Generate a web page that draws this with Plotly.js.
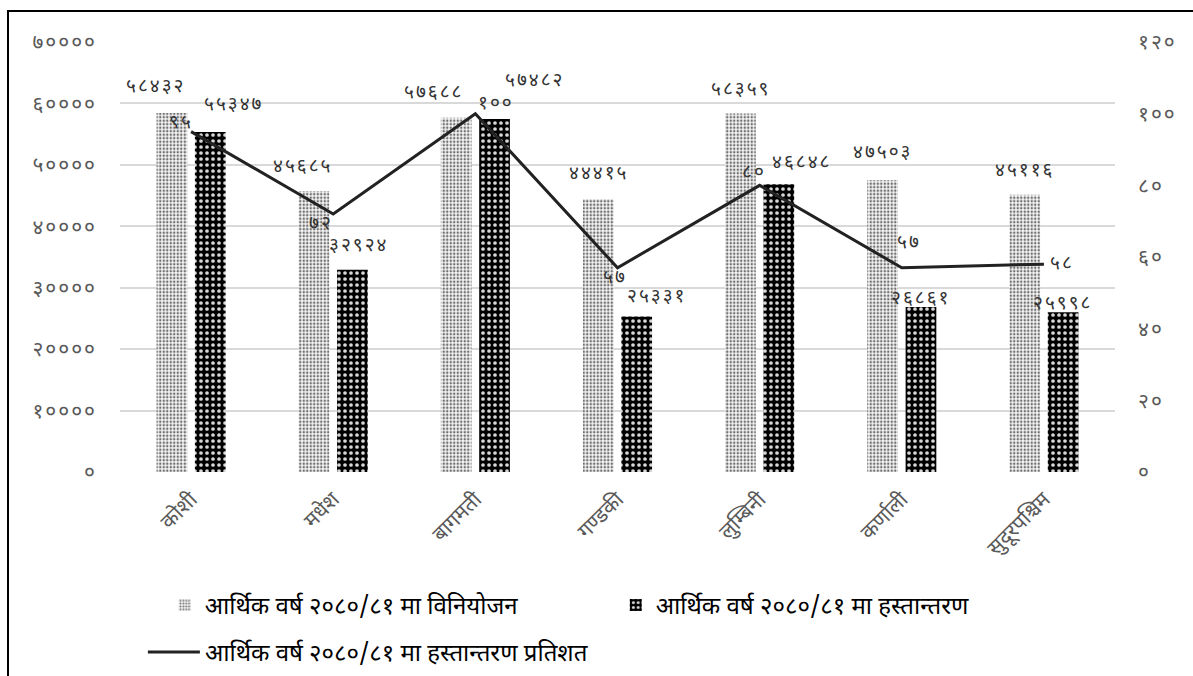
<!DOCTYPE html>
<html>
<head>
<meta charset="utf-8">
<script src="https://cdn.plot.ly/plotly-3.0.1.min.js"></script>
<style>
  body { margin: 0; background: #fff; overflow: hidden; }
  #chart { width: 1193px; height: 676px; }
  #frame { position: absolute; left: 7px; top: 10px; width: 1400px; height: 900px;
           border: 2px solid #000; pointer-events: none; }
  .ytick text, .y2tick text, .annotation-text { letter-spacing: 2px; }
</style>
</head>
<body>
<div id="chart"></div>
<div id="frame"></div>
<script>
// ---- data ----
const provinces = ['कोशी', 'मधेश', 'बागमती', 'गण्डकी', 'लुम्बिनी', 'कर्णाली', 'सुदूरपश्चिम'];
const allocation = [58432, 45685, 57688, 44415, 58359, 47503, 45116];
const transfer = [55347, 32924, 57482, 25331, 46848, 26861, 25998];
const transferPct = [95, 72, 100, 57, 80, 57, 58];
const leftTicks = [0, 10000, 20000, 30000, 40000, 50000, 60000, 70000];
const rightTicks = [0, 20, 40, 60, 80, 100, 120];
const seriesNames = [
  'आर्थिक वर्ष २०८०/८१ मा विनियोजन',
  'आर्थिक वर्ष २०८०/८१ मा हस्तान्तरण',
  'आर्थिक वर्ष २०८०/८१ मा हस्तान्तरण प्रतिशत'
];

const nep = n => String(n).replace(/[0-9]/g, d => '०१२३४५६७८९'[+d]);
const FONT = 'Noto Sans Devanagari, Lohit Devanagari, Kalimati, Mangal, FreeSans, Noto Sans, sans-serif';
const NUMSIZE = 21;
const LABSIZE = 19;

// label placement nudges (pixels, [dx, dy-up]) relative to each mark, styling only
const allocNudge = [[-36, 26], [-31, 24], [-42, 24], [-19, 25], [-19, 23], [-19, 27], [-19, 23]];
const transNudge = [[42, 27], [25, 23], [59, 37], [39, 19], [42, 21], [19, 8], [19, 8]];
const pctNudge = [[-10, 8], [-12, -10], [21, 9], [-3, -11], [-6, 12], [7, 24], [18, 0]];

const traces = [
  {
    type: 'bar', name: seriesNames[0], x: provinces, y: allocation,
    marker: { color: '#f2f2f2',
      pattern: { shape: '.', fgcolor: '#707070', bgcolor: '#f6f6f6', size: 3.5, solidity: 0.4 } },
    hoverinfo: 'x+y', legend: 'legend'
  },
  {
    type: 'bar', name: seriesNames[1], x: provinces, y: transfer,
    marker: { color: '#000',
      pattern: { shape: '.', fgcolor: '#d8d8d8', bgcolor: '#000', size: 6, solidity: 0.3 } },
    hoverinfo: 'x+y', legend: 'legend'
  },
  {
    type: 'scatter', mode: 'lines', name: seriesNames[2], x: provinces, y: transferPct,
    yaxis: 'y2', line: { color: '#222', width: 3 },
    cliponaxis: false, legend: 'legend2'
  }
];

const annotations = [];
const labFont = { family: FONT, size: LABSIZE, color: '#333' };
provinces.forEach((p, i) => {
  annotations.push({ x: p, y: allocation[i], xref: 'x', yref: 'y', text: nep(allocation[i]),
    showarrow: false, xshift: allocNudge[i][0], yshift: allocNudge[i][1], font: labFont });
  annotations.push({ x: p, y: transfer[i], xref: 'x', yref: 'y', text: nep(transfer[i]),
    showarrow: false, xshift: transNudge[i][0], yshift: transNudge[i][1], font: labFont });
  annotations.push({ x: p, y: transferPct[i], xref: 'x', yref: 'y2', text: nep(transferPct[i]),
    showarrow: false, xshift: pctNudge[i][0], yshift: pctNudge[i][1], font: labFont });
});

const layout = {
  width: 1193, height: 676,
  margin: { l: 120, r: 78, t: 42, b: 204, autoexpand: false },
  paper_bgcolor: '#fff', plot_bgcolor: '#fff',
  font: { family: FONT, color: '#595959' },
  barmode: 'group', bargap: 0.46, bargroupgap: 0.2,
  showlegend: true,
  xaxis: {
    type: 'category', tickangle: -45, showgrid: false, showline: false, zeroline: false,
    tickfont: { family: FONT, size: 21, color: '#595959' }, ticks: '',
    ticklabelstandoff: 10, automargin: false
  },
  yaxis: {
    range: [0, 70000], tickvals: leftTicks, ticktext: leftTicks.map(nep),
    showgrid: true, gridcolor: '#d9d9d9', gridwidth: 2, zeroline: false,
    showline: false, ticks: '', ticklabelstandoff: 22, automargin: false,
    tickfont: { family: FONT, size: NUMSIZE, color: '#595959' }
  },
  yaxis2: {
    range: [0, 120], tickvals: rightTicks, ticktext: rightTicks.map(nep),
    overlaying: 'y', side: 'right', showgrid: false, zeroline: false, showline: false,
    ticks: '', ticklabelstandoff: 22, automargin: false,
    tickfont: { family: FONT, size: NUMSIZE, color: '#595959' }
  },
  legend: {
    orientation: 'h', x: 0.045, y: -0.258, xanchor: 'left', yanchor: 'top',
    font: { family: FONT, size: 24, color: '#000' },
    entrywidth: 406, entrywidthmode: 'pixels', bgcolor: 'rgba(0,0,0,0)'
  },
  legend2: {
    orientation: 'h', x: 0.023, y: -0.367, xanchor: 'left', yanchor: 'top',
    font: { family: FONT, size: 24, color: '#000' }, bgcolor: 'rgba(0,0,0,0)',
    itemwidth: 52
  },
  annotations: annotations
};

Plotly.newPlot('chart', traces, layout, { displayModeBar: false, staticPlot: true });
</script>
</body>
</html>
